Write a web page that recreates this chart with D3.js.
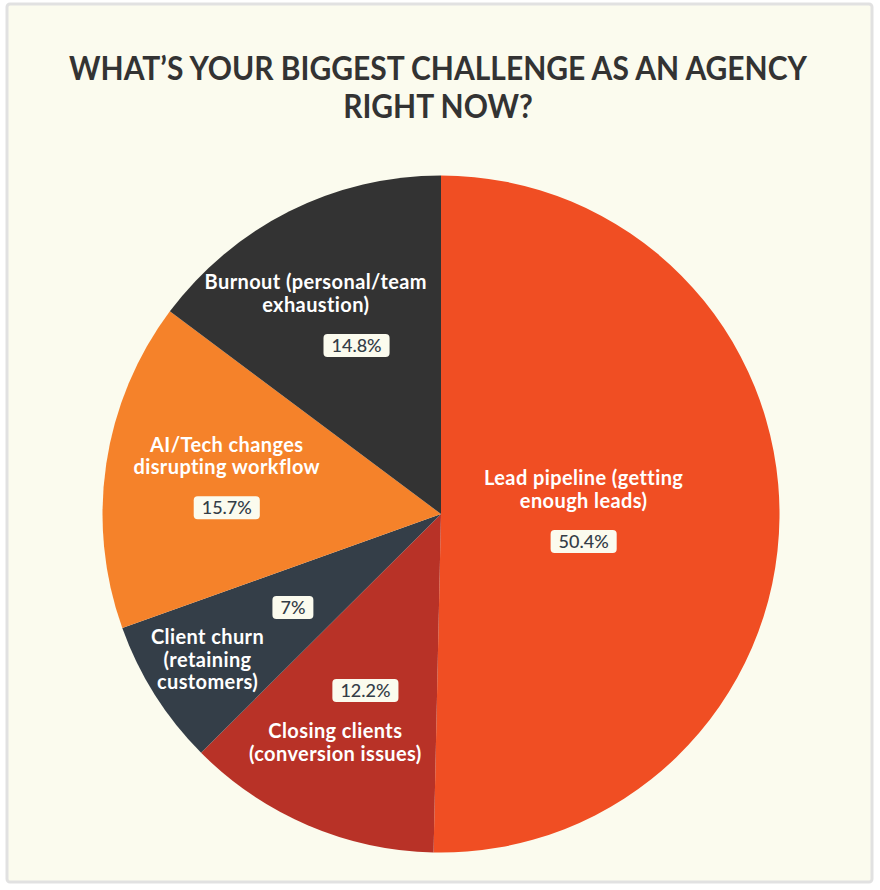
<!DOCTYPE html>
<html>
<head>
<meta charset="utf-8">
<script src="https://cdn.jsdelivr.net/npm/d3@7"></script>
<style>
  body { margin: 0; background: #ffffff; }
  svg { display: block; }
</style>
</head>
<body>
<div id="chart"></div>
<script>
// survey answers, clockwise from 12 o'clock
var categories = [
  "Lead pipeline (getting\nenough leads)",
  "Closing clients\n(conversion issues)",
  "Client churn\n(retaining\ncustomers)",
  "AI/Tech changes\ndisrupting workflow",
  "Burnout (personal/team\nexhaustion)"
];
var values = [50.4, 12.2, 7, 15.7, 14.8];
var valueLabels = ["50.4%", "12.2%", "7%", "15.7%", "14.8%"];
var colors = ["#f04e23", "#b83227", "#343e48", "#f5822a", "#333333"];
var titleLines = ["WHAT\u2019S YOUR BIGGEST CHALLENGE AS AN AGENCY", "RIGHT NOW?"];

var width = 880, height = 890;
var cx = 441, cy = 514, radius = 338.5;

var svg = d3.select("#chart").append("svg")
    .attr("width", width)
    .attr("height", height);

// card
svg.append("rect")
    .attr("x", 7).attr("y", 4)
    .attr("width", 865).attr("height", 878)
    .attr("rx", 3)
    .attr("fill", "#fbfbee")
    .attr("stroke", "#e1e1e1")
    .attr("stroke-width", 3);

// title - squeeze to the width of the original condensed face
var titles = svg.append("g").selectAll("text")
    .data(titleLines)
    .enter().append("text")
    .attr("x", width / 2 - 2)
    .attr("y", function(d, i) { return 80 + i * 37.5; })
    .attr("text-anchor", "middle")
    .attr("fill", "#333333")
    .style("font-family", "Lato, 'Noto Sans', sans-serif")
    .style("font-weight", 700)
    .style("font-size", "33px")
    .text(function(d) { return d; });

var squeeze = 738 / titles.nodes()[0].getComputedTextLength();
titles.each(function() {
  var w = this.getComputedTextLength();
  d3.select(this)
      .attr("textLength", w * squeeze)
      .attr("lengthAdjust", "spacingAndGlyphs");
});

var data = categories.map(function(c, i) {
  return { name: c, value: values[i], label: valueLabels[i], color: colors[i] };
});

var pie = d3.pie()
    .sort(null)
    .value(function(d) { return d.value; });

var arc = d3.arc()
    .innerRadius(0)
    .outerRadius(radius);

var arcs = pie(data);

var g = svg.append("g")
    .attr("transform", "translate(" + cx + "," + cy + ")");

g.selectAll("path")
    .data(arcs)
    .enter().append("path")
    .attr("d", arc)
    .attr("fill", function(d) { return d.data.color; });

// label anchors: sector centroid, name and percent split around it
function layout(d) {
  var mid = (d.startAngle + d.endAngle) / 2;
  var half = (d.endAngle - d.startAngle) / 2;
  var dist = 2 * radius * Math.sin(half) / (3 * half);
  var ux = Math.sin(mid), uy = -Math.cos(mid);
  var c = [dist * ux, dist * uy];
  var sep = 26;
  var name, pct;
  if (Math.abs(uy) < 0.5) {
    name = [c[0], c[1] - sep];
    pct = [c[0], c[1] + sep];
  } else {
    var t = sep / Math.abs(uy);
    name = [c[0] + t * ux, c[1] + t * uy];
    pct = [c[0] - t * ux, c[1] - t * uy];
  }
  return { name: name, pct: pct };
}

// horizontal nudge so no text line runs over the slice's straight edges
function edgeShift(d, spans, margin) {
  var shift = 0;
  spans.forEach(function(s) {
    [d.startAngle, d.endAngle].forEach(function(a) {
      var ex = Math.sin(a), ey = -Math.cos(a);
      if (Math.abs(ey) < 1e-6 || ey * s.y <= 0) return;
      var xe = s.y * ex / ey;
      var mid = (s.left + s.right) / 2;
      if (mid < xe) shift = Math.min(shift, xe - margin - s.right);
      else shift = Math.max(shift, xe + margin - s.left);
    });
  });
  return shift;
}

var lineH = 22.5;

var labels = g.selectAll("g.label")
    .data(arcs)
    .enter().append("g")
    .attr("class", "label");

labels.each(function(d) {
  var pos = layout(d);
  var el = d3.select(this);
  var lines = d.data.name.split("\n");
  var top = pos.name[1] - (lines.length - 1) * lineH / 2 + 7;

  var tspans = el.append("text")
      .attr("text-anchor", "middle")
      .attr("fill", "#ffffff")
      .style("font-family", "Lato, 'Noto Sans', sans-serif")
      .style("font-weight", 700)
      .style("font-size", "20px")
      .style("letter-spacing", "0.4px")
      .selectAll("tspan")
      .data(lines)
      .enter().append("tspan")
      .attr("x", pos.name[0])
      .attr("y", function(l, i) { return top + i * lineH; })
      .text(function(l) { return l; });

  var spans = tspans.nodes().map(function(n, i) {
    var w = n.getComputedTextLength();
    return { y: top + i * lineH - 7, left: pos.name[0] - w / 2, right: pos.name[0] + w / 2 };
  });
  var dx = edgeShift(d, spans, 14);
  tspans.attr("x", pos.name[0] + dx);

  var box = el.append("rect")
      .attr("fill", "#fbfbee")
      .attr("rx", 4);

  var t = el.append("text")
      .attr("x", pos.pct[0])
      .attr("y", pos.pct[1] + 6.5)
      .attr("text-anchor", "middle")
      .attr("fill", "#333d47")
      .style("font-family", "Lato, 'Noto Sans', sans-serif")
      .style("font-weight", 500)
      .style("font-size", "18px")
      .text(d.data.label);

  var w = t.node().getBBox().width + 16;
  box.attr("x", pos.pct[0] - w / 2)
      .attr("y", pos.pct[1] - 11.5)
      .attr("width", w)
      .attr("height", 23);
});
</script>
</body>
</html>
